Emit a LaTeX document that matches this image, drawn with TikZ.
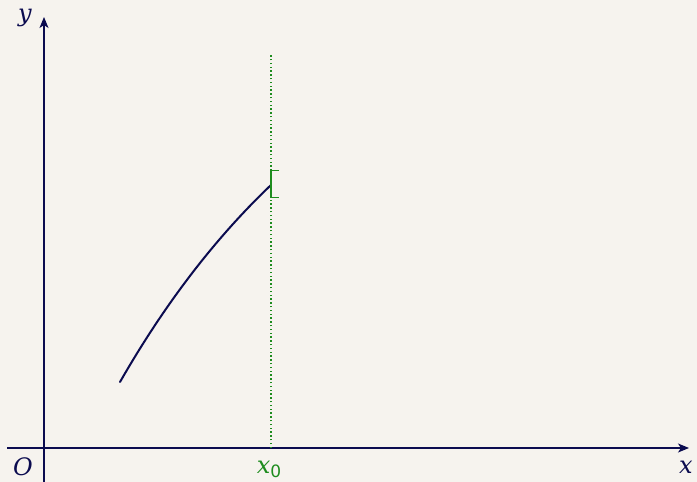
\documentclass[tikz,border=0pt]{standalone}
\usepackage{fontspec}
\newfontfamily\labfont{DejaVu Serif}
\newfontfamily\subfont{DejaVu Sans}
\usetikzlibrary{arrows.meta,calc}
\definecolor{bgc}{HTML}{F6F3EE}
\definecolor{navy}{HTML}{0B0B4F}
\definecolor{grn}{HTML}{1E8C1E}
\begin{document}
\begin{tikzpicture}[x=1pt,y=1pt,
  axis/.style={draw=navy,line width=1.4pt,-{Stealth[length=11pt,width=9pt,inset=3pt]}},
  lab/.style={text=navy,font=\labfont\itshape\fontsize{24}{28}\selectfont,inner sep=0pt,anchor=base},
  guide/.style={draw=grn,line width=1.4pt,dash pattern=on 1.4pt off 2.4pt},
  bracket/.style={draw=grn,line width=1.6pt},
  curve/.style={draw=navy,line width=2pt}]
\fill[bgc] (0,0) rectangle (697,482);
\useasboundingbox (0,0) rectangle (697,482);
% axes
\coordinate (xs) at (7,34);
\coordinate (xe) at (689,34);
\coordinate (ys) at (44,0);
\coordinate (ye) at (44,465);
\draw[axis] (xs) -- (xe);
\draw[axis] (ys) -- (ye);
% labels
\node[lab] (ylab) at (25,460) {y};
\node[lab] (olab) at (23,6) {O};
\node[lab] (xlab) at (686,8) {x};
\node[lab,text=grn] (x0lab) at (269,8) {x{\subfont\upshape\fontsize{17}{19}\selectfont\raisebox{-4pt}{0}}};
% guide
\coordinate (gtop) at (271,427);
\coordinate (gbot) at (271,34);
\draw[guide] (gbot) -- (gtop);
% curve
\coordinate (cs) at (120,100);
\coordinate (ce) at (271,297);
\draw[curve,line cap=round] (cs) .. controls (164.7,178) and (215,243.7) .. (ce);
% bracket
\coordinate (bt) at (271,311.5);
\coordinate (bb) at (271,284.5);
\draw[bracket] ($(bt)+(8,0)$) -- (bt) -- (bb) -- ($(bb)+(8,0)$);
\end{tikzpicture}
\end{document}
